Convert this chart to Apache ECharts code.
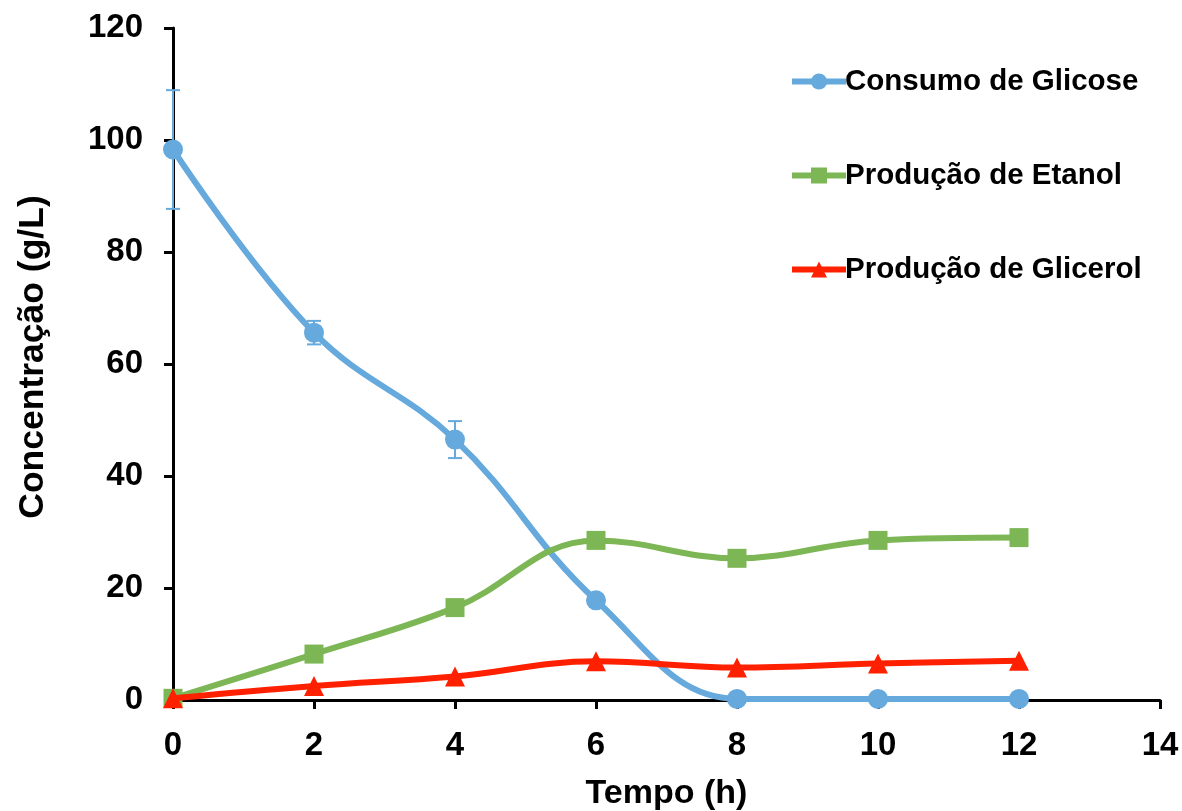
<!DOCTYPE html>
<html>
<head>
<meta charset="utf-8">
<script src="https://cdn.jsdelivr.net/npm/echarts@6/dist/echarts.min.js"></script>
<style>html,body{margin:0;padding:0;background:#fff}#c{width:1182px;height:811px}</style>
</head>
<body>
<div id="c"></div>
<script>
var times = [0, 2, 4, 6, 8, 10, 12];
var glicose = [98.3, 65.6, 46.5, 17.8, 0.2, 0.2, 0.2];
var glicoseErr = [10.6, 2.1, 3.3, 0.5, 0, 0, 0];
var etanol = [0.3, 8.2, 16.5, 28.5, 25.3, 28.5, 29.0];
var etanolErr = [0, 0.3, 1.2, 1.3, 0.5, 0.8, 0];
var glicerol = [0.3, 2.5, 4.2, 6.9, 5.8, 6.5, 7.0];
var names = ['Consumo de Glicose', 'Produção de Etanol', 'Produção de Glicerol'];
var colors = ['#65A9DD', '#7DB655', '#FF2000'];
var FONT = 'Liberation Sans, Arial, sans-serif';

function pairs(v) { return times.map(function (t, i) { return [t, v[i]]; }); }
function errData(v, e) { return times.map(function (t, i) { return [t, v[i] - e[i], v[i] + e[i]]; }); }
function errSeries(v, e, color) {
  return {
    type: 'custom',
    silent: true,
    z: 1,
    data: errData(v, e).filter(function (d) { return d[2] - d[1] > 0; }),
    renderItem: function (params, api) {
      var lo = api.coord([api.value(0), api.value(1)]);
      var hi = api.coord([api.value(0), api.value(2)]);
      var w = 7;
      var st = { stroke: color, lineWidth: 2 };
      return {
        type: 'group',
        children: [
          { type: 'line', shape: { x1: lo[0], y1: lo[1], x2: hi[0], y2: hi[1] }, style: st },
          { type: 'line', shape: { x1: lo[0] - w, y1: lo[1], x2: lo[0] + w, y2: lo[1] }, style: st },
          { type: 'line', shape: { x1: hi[0] - w, y1: hi[1], x2: hi[0] + w, y2: hi[1] }, style: st }
        ]
      };
    }
  };
}
function lineSeries(idx, v, symbol, size) {
  return {
    name: names[idx],
    type: 'line',
    data: pairs(v),
    smooth: 0.4,
    symbol: symbol,
    symbolSize: size,
    showAllSymbol: true,
    z: 3 + idx,
    lineStyle: { color: colors[idx], width: 6 },
    itemStyle: { color: colors[idx], opacity: 1 },
    emphasis: { disabled: true }
  };
}

var chart = echarts.init(document.getElementById('c'));
chart.setOption({
  animation: false,
  grid: { left: 173, top: 28, right: 22, bottom: 111, containLabel: false, outerBoundsMode: 'none' },
  legend: {
    orient: 'vertical',
    left: 789,
    top: 65,
    padding: 0,
    itemWidth: 54,
    itemHeight: 20,
    itemGap: 61,
    data: names,
    lineStyle: { width: 6 },
    textStyle: { fontFamily: FONT, fontWeight: 'bold', fontSize: 29.5, color: '#000', lineHeight: 33, padding: [0, 0, 0, -6] }
  },
  xAxis: {
    type: 'value',
    min: 0, max: 14, interval: 2,
    name: 'Tempo (h)',
    nameLocation: 'middle',
    nameGap: 77,
    nameTextStyle: { fontFamily: FONT, fontWeight: 'bold', fontSize: 34, color: '#000' },
    axisLine: { lineStyle: { color: '#000', width: 3 } },
    axisTick: { show: true, length: 9, lineStyle: { color: '#000', width: 3 } },
    axisLabel: { margin: 29, fontFamily: FONT, fontWeight: 'bold', fontSize: 33, color: '#000' },
    splitLine: { show: false }
  },
  yAxis: {
    type: 'value',
    min: 0, max: 120, interval: 20,
    name: 'Concentração (g/L)',
    nameLocation: 'middle',
    nameGap: 122,
    nameRotate: 90,
    nameTextStyle: { fontFamily: FONT, fontWeight: 'bold', fontSize: 35.5, color: '#000', padding: [0, 0, 0, 14] },
    axisLine: { show: true, lineStyle: { color: '#000', width: 3 } },
    axisTick: { show: true, length: 9, lineStyle: { color: '#000', width: 3 } },
    axisLabel: { margin: 30, fontFamily: FONT, fontWeight: 'bold', fontSize: 33, color: '#000' },
    splitLine: { show: false }
  },
  series: [
    errSeries(glicose, glicoseErr, colors[0]),
    errSeries(etanol, etanolErr, '#000'),
    lineSeries(0, glicose, 'circle', 20),
    lineSeries(1, etanol, 'rect', 19),
    lineSeries(2, glicerol, 'triangle', 20)
  ]
});
</script>
</body>
</html>
